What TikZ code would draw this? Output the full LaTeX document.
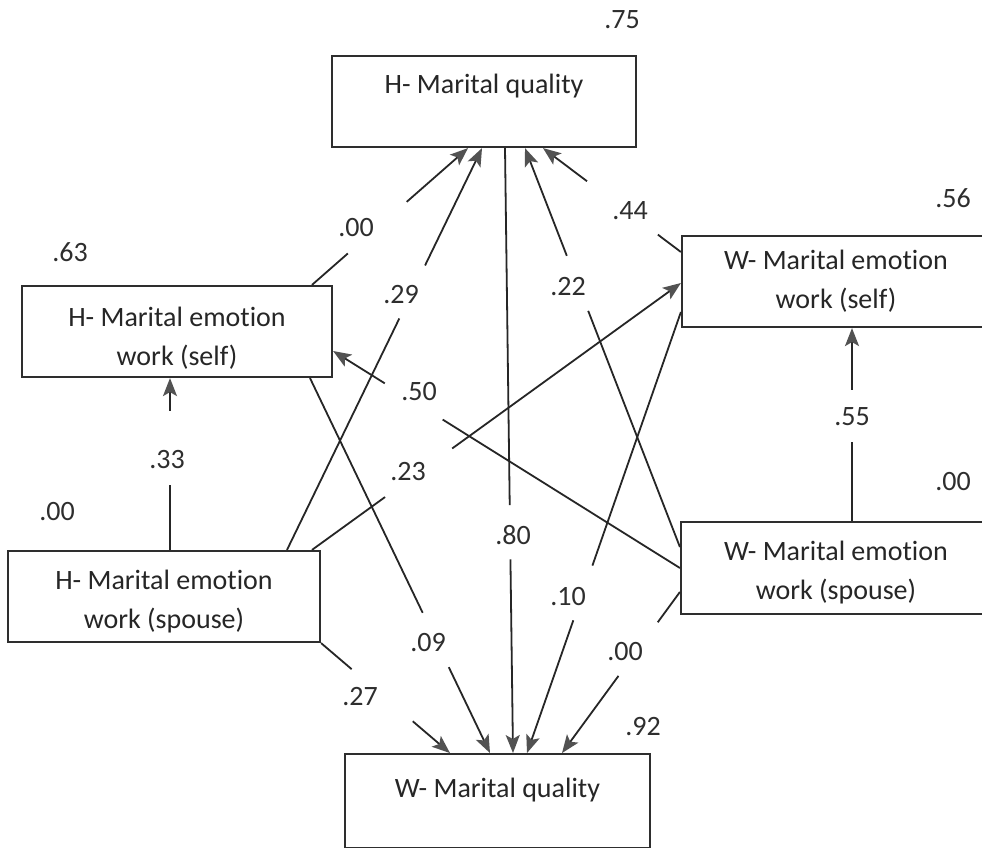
\documentclass[tikz,border=0pt]{standalone}
\usepackage{fontspec}
\setmainfont{Carlito}[Ligatures=NoCommon]
\usetikzlibrary{arrows.meta,calc}
\newcommand\gapline[4]{%
  \draw[conn] (#1) -- ($(#1)!#3!(#2)$);
  \draw[conn,arr] ($(#1)!#4!(#2)$) -- (#2);}
\newcommand\dn[1]{\rule{0pt}{#1pt}}
\begin{document}
\begin{tikzpicture}[x=1pt,y=-1pt,
  font=\fontsize{28}{39}\selectfont,
  box/.style={draw=black!82, line width=2.2pt, align=center, inner sep=0pt, text=black!85},
  conn/.style={draw=black!85, line width=1.8pt},
  arr/.style={-{Stealth[length=18pt,width=14pt,inset=4pt,color=black!68]}},
  num/.style={text=black!82, inner sep=0pt}]
\useasboundingbox (0,0) rectangle (982,848);
\clip (0,0) rectangle (982,848);
\fill[white] (0,0) rectangle (982,848);

% boxes
\node[box, minimum width=304pt, minimum height=91pt] (hmq) at (484,101.5) {\dn{35}H- Marital quality\\\strut};
\node[box, minimum width=310pt, minimum height=91pt] (hself) at (177,331.5) {\dn{33}H- Marital emotion\\work (self)};
\node[box, minimum width=312pt, minimum height=91pt] (hsp) at (164,596.5) {\dn{30}H- Marital emotion\\work (spouse)};
\node[box, minimum width=308pt, minimum height=91pt] (wself) at (836,281.5) {W- Marital emotion\\work (self)};
\node[box, minimum width=310pt, minimum height=92pt] (wsp) at (836,568) {\dn{28}W- Marital emotion\\work (spouse)};
\node[box, minimum width=305pt, minimum height=88pt] (wmq) at (497.5,801) {\dn{43}W- Marital quality\\\strut};

% endpoints
\coordinate (a1) at (hself.north -| 312,0);
\coordinate (b1) at (hmq.south -| 468,0);
\coordinate (a2) at (hsp.north -| 287,0);
\coordinate (b2) at (hmq.south -| 482,0);
\coordinate (a3) at (hsp.north -| 312,0);
\coordinate (b3) at (wself.west |- 0,283);
\coordinate (a4) at (wsp.west |- 0,547);
\coordinate (b4) at (hmq.south -| 525,0);
\coordinate (a5) at (wself.west |- 0,252);
\coordinate (b5) at (hmq.south -| 543,0);
\coordinate (a6) at (hmq.south -| 505,0);
\coordinate (b6) at (wmq.north -| 513,0);
\coordinate (a7) at (hself.south -| 310,0);
\coordinate (b7) at (wmq.north -| 490,0);
\coordinate (a8) at (hsp.south east);
\coordinate (b8) at (wmq.north -| 450,0);
\coordinate (a9) at (wself.west |- 0,312);
\coordinate (b9) at (wmq.north -| 527,0);
\coordinate (a10) at (wsp.west |- 0,592);
\coordinate (b10) at (wmq.north -| 562,0);
\coordinate (a11) at (wsp.west |- 0,568);
\coordinate (b11) at (hself.east |- 0,351);
\coordinate (a12) at (hsp.north -| 170,0);
\coordinate (b12) at (hself.south -| 170,0);
\coordinate (a13) at (wsp.north -| 852,0);
\coordinate (b13) at (wself.south -| 852,0);

% connectors (with gaps for labels)
\gapline{a1}{b1}{0.23}{0.607}
\gapline{a2}{b2}{0.576}{0.708}
\gapline{a3}{b3}{0.198}{0.38}
\gapline{a4}{b4}{0.592}{0.730}
\gapline{a5}{b5}{0.167}{0.681}
\gapline{a6}{b6}{0.590}{0.680}
\gapline{a7}{b7}{0.626}{0.771}
\gapline{a8}{b8}{0.237}{0.711}
\gapline{a9}{b9}{0.575}{0.699}
\gapline{a10}{b10}{0.188}{0.521}
\gapline{a11}{b11}{0.684}{0.851}
\gapline{a12}{b12}{0.379}{0.810}
\gapline{a13}{b13}{0.408}{0.679}

% labels
\node[num] (l75) at (622,20) {.75};
\node[num] (l63) at (70,252) {.63};
\node[num] (l56) at (953,198) {.56};
\node[num] (l00l) at (57,512) {.00};
\node[num] (l00r) at (953,482) {.00};
\node[num] (l92) at (643,727) {.92};
\node[num] (l00a) at (356,228) {.00};
\node[num] (l29) at (401,295) {.29};
\node[num] (l23) at (408,472) {.23};
\node[num] (l22) at (568,287) {.22};
\node[num] (l44) at (630,211) {.44};
\node[num] (l80) at (513,535) {.80};
\node[num] (l09) at (428,643) {.09};
\node[num] (l27) at (360,697) {.27};
\node[num] (l10) at (568,597) {.10};
\node[num] (l00b) at (625,652) {.00};
\node[num] (l50) at (419,392) {.50};
\node[num] (l33) at (167,460) {.33};
\node[num] (l55) at (852,417) {.55};
\end{tikzpicture}
\end{document}
